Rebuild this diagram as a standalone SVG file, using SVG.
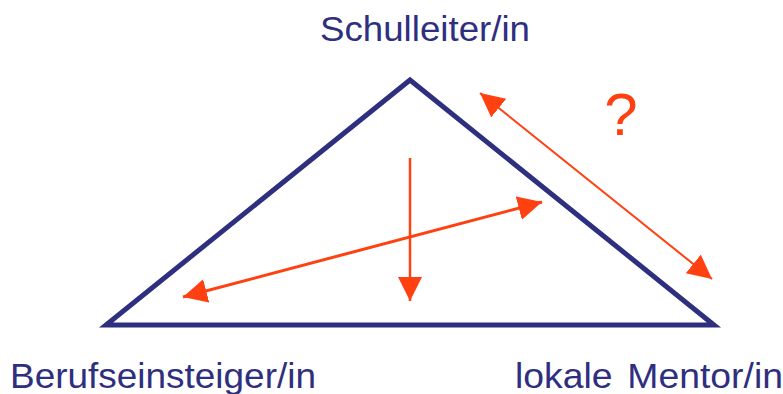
<svg xmlns="http://www.w3.org/2000/svg" width="783" height="394" viewBox="0 0 783 394">
<style>
.lbl{font-family:"Liberation Sans",Arial,sans-serif;font-size:35px;fill:#2F2F80}
.arr{stroke:#FF4010;fill:none}
</style>
<defs>
<marker id="ah" markerUnits="userSpaceOnUse" markerWidth="30" markerHeight="30" refX="24" refY="12" orient="auto-start-reverse" viewBox="0 0 30 30">
<path d="M0,0 L24,12 L0,24 Z" fill="#FF4010"/>
</marker>
</defs>
<g id="triangle">
<polygon points="410,80 106,325 714,325" fill="none" stroke="#2F2F80" stroke-width="5" stroke-linejoin="miter"/>
</g>
<g id="schulleiter"><text class="lbl" x="320" y="41" textLength="210" lengthAdjust="spacingAndGlyphs">Schulleiter/in</text></g>
<g id="berufseinsteiger"><text class="lbl" x="10" y="388" textLength="306" lengthAdjust="spacingAndGlyphs">Berufseinsteiger/in</text></g>
<g id="mentor"><text class="lbl" x="515" y="388" textLength="268" lengthAdjust="spacingAndGlyphs" style="word-spacing:4px">lokale Mentor/in</text></g>
<g id="connectors">
<line class="arr" x1="410" y1="158" x2="410" y2="301" stroke-width="2.5" marker-end="url(#ah)"/>
<line class="arr" x1="183" y1="297" x2="542" y2="202" stroke-width="3" marker-start="url(#ah)" marker-end="url(#ah)"/>
<line class="arr" x1="480" y1="93" x2="712" y2="279" stroke-width="2" marker-start="url(#ah)" marker-end="url(#ah)"/>
</g>
<text x="621" y="135" text-anchor="middle" style="font-family:'Liberation Sans',Arial,sans-serif;font-size:60px;fill:#FF4010">?</text>
</svg>
